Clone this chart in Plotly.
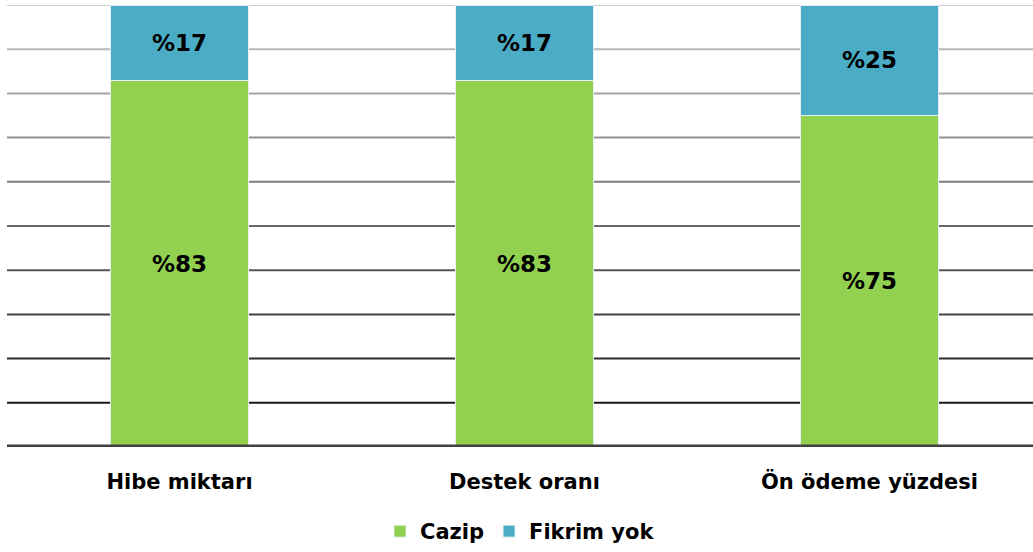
import plotly.graph_objects as go

kategoriler = ["Hibe miktarı", "Destek oranı", "Ön ödeme yüzdesi"]
cazip = [83, 83, 75]
fikrim_yok = [17, 17, 25]
izgara = [10, 20, 30, 40, 50, 60, 70, 80, 90, 100]

yesil = "#92D050"
mavi = "#4BACC6"
kalin = dict(family="DejaVu Sans", size=21, color="black", weight="bold")
deger_yazi = dict(family="DejaVu Sans", size=23, color="black", weight="bold")

fig = go.Figure()
fig.add_trace(go.Bar(
    x=kategoriler, y=cazip, name="Cazip",
    marker=dict(color=yesil, line=dict(color="#e6f0f4", width=1)),
    text=["%" + str(v) for v in cazip], textposition="inside",
    insidetextanchor="middle", textfont=deger_yazi,
))
fig.add_trace(go.Bar(
    x=kategoriler, y=fikrim_yok, name="Fikrim yok",
    marker=dict(color=mavi, line=dict(color="#e6f0f4", width=1)),
    text=["%" + str(v) for v in fikrim_yok], textposition="inside",
    insidetextanchor="middle", textfont=deger_yazi,
))

# gridlines get darker toward the bottom, like the original
for i, g in enumerate(izgara):
    ton = 25 + i * 20
    fig.add_shape(type="line", xref="paper", yref="y", x0=0, x1=1, y0=g, y1=g,
                  line=dict(color=f"rgb({ton},{ton},{ton})", width=2), layer="below")
fig.add_shape(type="line", xref="paper", yref="y", x0=0, x1=1, y0=0, y1=0,
              line=dict(color="#404040", width=5), layer="above")

fig.update_layout(
    barmode="stack",
    bargap=0.6,
    width=1033, height=552,
    margin=dict(l=7, r=0, t=5, b=105),
    plot_bgcolor="white", paper_bgcolor="white",
    font=kalin,
    uniformtext=dict(mode="show", minsize=21),
    xaxis=dict(range=[-0.5, 2.474], showgrid=False, showline=False,
               ticks="", tickfont=kalin, ticklabelstandoff=20),
    yaxis=dict(range=[0, 100], showgrid=False, showticklabels=False,
               zeroline=False, showline=False),
    showlegend=True,
    legend=dict(orientation="h", x=0.5, xanchor="center",
                yref="container", y=0.0, yanchor="bottom",
                font=kalin, itemwidth=30, traceorder="normal"),
)

fig.write_html("out.html", config={"displayModeBar": False},
               post_script="document.body.style.margin='0';")
